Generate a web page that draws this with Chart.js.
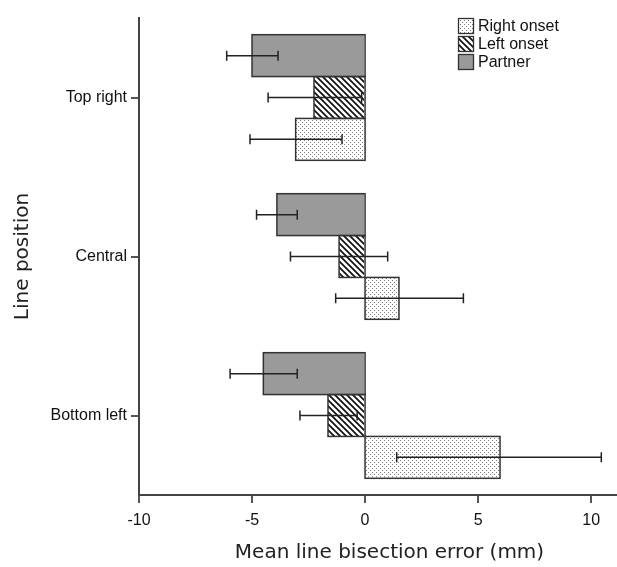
<!DOCTYPE html>
<html>
<head>
<meta charset="utf-8">
<script src="https://cdn.jsdelivr.net/npm/chart.js@4.4.1/dist/chart.umd.min.js"></script>
<style>
  html, body { margin: 0; padding: 0; background: #fff; }
  #wrap { width: 617px; height: 567px; }
</style>
</head>
<body>
<div id="wrap"><canvas id="chart" width="617" height="567"></canvas></div>
<script>
// categories and series (mm)
const categories = ['Top right', 'Central', 'Bottom left'];
const seriesNames = ['Partner', 'Left onset', 'Right onset'];

const partner = [-5.0, -3.9, -4.5];
const partnerLow = [-6.12, -4.8, -5.97];
const partnerHigh = [-3.85, -3.0, -3.0];

const leftOnset = [-2.26, -1.15, -1.64];
const leftOnsetLow = [-4.29, -3.3, -2.88];
const leftOnsetHigh = [-0.15, 1.0, -0.35];

const rightOnset = [-3.07, 1.5, 5.97];
const rightOnsetLow = [-5.09, -1.3, 1.4];
const rightOnsetHigh = [-1.02, 4.35, 10.45];

const xTicks = [-10, -5, 0, 5, 10];

const tickFont = '"Liberation Sans", Arial, sans-serif';
const titleFont = '"DejaVu Sans", sans-serif';

function dotPattern() {
  const c = document.createElement('canvas');
  c.width = 4; c.height = 4;
  const g = c.getContext('2d');
  g.fillStyle = '#ffffff';
  g.fillRect(0, 0, 4, 4);
  g.fillStyle = '#7a7a7a';
  g.fillRect(0, 0, 1, 1);
  g.fillRect(2, 2, 1, 1);
  return g.createPattern(c, 'repeat');
}

function hatchPattern() {
  const c = document.createElement('canvas');
  c.width = 6; c.height = 6;
  const g = c.getContext('2d');
  g.fillStyle = '#ffffff';
  g.fillRect(0, 0, 6, 6);
  g.strokeStyle = '#111';
  g.lineWidth = 1.7;
  g.beginPath();
  g.moveTo(-1, -1); g.lineTo(7, 7);
  g.moveTo(-1, 5); g.lineTo(1, 7);
  g.moveTo(5, -1); g.lineTo(7, 1);
  g.stroke();
  return g.createPattern(c, 'repeat');
}

const fills = ['#9a9a9a', hatchPattern(), dotPattern()];
const errLow = [partnerLow, leftOnsetLow, rightOnsetLow];
const errHigh = [partnerHigh, leftOnsetHigh, rightOnsetHigh];
const values = [partner, leftOnset, rightOnset];

// outline every bar so neighbours share one edge
const barOutlines = {
  id: 'barOutlines',
  afterDatasetsDraw(chart) {
    const ctx = chart.ctx;
    const zero = chart.scales.x.getPixelForValue(0);
    ctx.save();
    ctx.strokeStyle = '#333';
    ctx.lineWidth = 1.5;
    chart.data.datasets.forEach((ds, i) => {
      chart.getDatasetMeta(i).data.forEach(bar => {
        const p = bar.getProps(['x', 'y', 'height'], true);
        const left = Math.min(p.x, zero);
        ctx.strokeRect(left, p.y - p.height / 2, Math.abs(p.x - zero), p.height);
      });
    });
    ctx.restore();
  }
};

const errorBars = {
  id: 'errorBars',
  afterDatasetsDraw(chart) {
    const ctx = chart.ctx;
    const x = chart.scales.x;
    ctx.save();
    ctx.strokeStyle = '#222';
    ctx.lineWidth = 1.5;
    chart.data.datasets.forEach((ds, i) => {
      chart.getDatasetMeta(i).data.forEach((bar, j) => {
        const x1 = x.getPixelForValue(errLow[i][j]);
        const x2 = x.getPixelForValue(errHigh[i][j]);
        const y = bar.y;
        ctx.beginPath();
        ctx.moveTo(x1, y); ctx.lineTo(x2, y);
        ctx.moveTo(x1, y - 5); ctx.lineTo(x1, y + 5);
        ctx.moveTo(x2, y - 5); ctx.lineTo(x2, y + 5);
        ctx.stroke();
      });
    });
    ctx.restore();
  }
};

const boxLegend = {
  id: 'boxLegend',
  afterDraw(chart) {
    const ctx = chart.ctx;
    ctx.save();
    ctx.font = '16px ' + tickFont;
    ctx.textBaseline = 'middle';
    const order = [2, 1, 0];
    order.forEach((i, k) => {
      const bx = 458, by = 18 + k * 18;
      ctx.fillStyle = chart.data.datasets[i].backgroundColor;
      ctx.fillRect(bx, by, 16, 16);
      ctx.strokeStyle = '#333';
      ctx.lineWidth = 1.3;
      ctx.strokeRect(bx + 0.5, by + 0.5, 15, 15);
      ctx.fillStyle = '#111';
      ctx.fillText(chart.data.datasets[i].label, 478, by + 8.5);
    });
    ctx.restore();
  }
};

// x title sits a little right of the plot centre in the original
const xTitle = {
  id: 'xTitle',
  afterDraw(chart) {
    const ctx = chart.ctx;
    const a = chart.chartArea;
    ctx.save();
    ctx.font = '20px ' + titleFont;
    ctx.fillStyle = '#222';
    ctx.textAlign = 'center';
    ctx.textBaseline = 'middle';
    ctx.fillText('Mean line bisection error (mm)', (a.left + a.right) / 2 + 12, 553);
    ctx.restore();
  }
};

new Chart(document.getElementById('chart'), {
  type: 'bar',
  data: {
    labels: categories,
    datasets: seriesNames.map((name, i) => ({
      label: name,
      data: values[i],
      backgroundColor: fills[i],
      borderWidth: 0,
      barPercentage: 1.0,
      categoryPercentage: 0.79
    }))
  },
  options: {
    indexAxis: 'y',
    responsive: false,
    animation: false,
    devicePixelRatio: 1,
    layout: { padding: { top: 18, right: 1, left: 0, bottom: 0 } },
    plugins: {
      legend: { display: false },
      tooltip: { enabled: false }
    },
    scales: {
      x: {
        min: -10,
        max: 11.1,
        afterBuildTicks(s) { s.ticks = xTicks.map(v => ({ value: v })); },
        afterFit(s) { s.height = 72; },
        border: { color: '#444', width: 2 },
        grid: { drawOnChartArea: false, drawTicks: true, tickLength: 8, color: '#555', lineWidth: 2 },
        ticks: { color: '#111', padding: 8, font: { family: tickFont, size: 16 } },
        title: { display: false }
      },
      y: {
        afterFit(s) { s.width = 139; },
        border: { color: '#444', width: 2 },
        grid: { offset: false, drawOnChartArea: false, drawTicks: true, tickLength: 8, color: '#555', lineWidth: 2 },
        ticks: { color: '#111', padding: 4, font: { family: tickFont, size: 16 } },
        title: {
          display: true,
          text: 'Line position',
          color: '#222',
          padding: { top: 11, bottom: 0 },
          font: { family: titleFont, size: 20 }
        }
      }
    }
  },
  plugins: [barOutlines, errorBars, boxLegend, xTitle]
});
</script>
</body>
</html>
